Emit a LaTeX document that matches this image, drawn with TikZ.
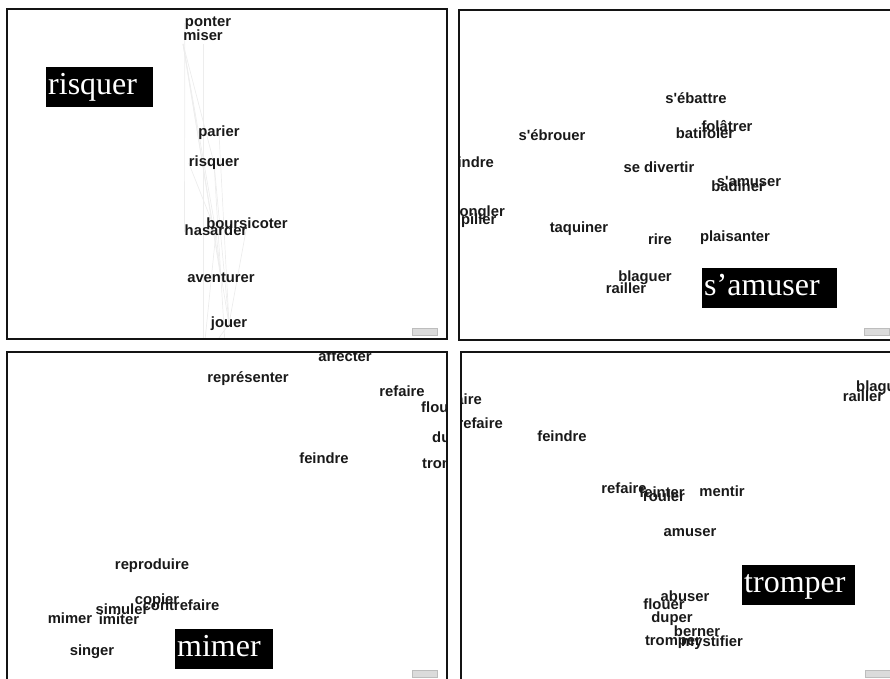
\documentclass[tikz,border=0pt]{standalone}
\usepackage{fontspec}
\newfontfamily\motfont{Liberation Sans}
\newfontfamily\etiqfont{Liberation Serif}
\usetikzlibrary{backgrounds}
\begin{document}
\begin{tikzpicture}[x=1pt,y=-1pt,
  mot/.style={font=\motfont\bfseries\fontsize{14.8}{15}\selectfont, text=black!90, inner sep=0pt, text height=10.5pt, text depth=3pt},
  lien/.style={draw=black!7, line width=0.7pt},
  etiquette/.style={fill=black, text=white, font=\etiqfont\fontsize{32}{32}\selectfont, anchor=north west, inner xsep=2pt, inner ysep=3.5pt, text width=#1, align=left, text height=24pt, text depth=9pt},
  cadre/.style={draw=black!92, line width=2pt},
  bouton/.style={fill=black!14, draw=black!26, line width=0.4pt, minimum width=25pt, minimum height=7pt, inner sep=0pt}]
\useasboundingbox (0,0) rectangle (890,678);
% risquer
\begin{scope}
\clip (8,10) rectangle (446,338);
\node[mot] (a-ponter) at (208,23) {ponter};
\node[mot] (a-miser) at (203,37) {miser};
\node[mot] (a-parier) at (219,133) {parier};
\node[mot] (a-risquer) at (214,163) {risquer};
\node[mot] (a-boursicoter) at (247,225) {boursicoter};
\node[mot] (a-hasarder) at (216,232) {hasarder};
\node[mot] (a-aventurer) at (221,279) {aventurer};
\node[mot] (a-jouer) at (229,324) {jouer};
\coordinate (a-bas) at (203,360);
\coordinate (a-bas2) at (226,360);
\node[etiquette=103pt] (a-titre) at (46,67) {risquer};
\node[bouton] (a-bouton) at (425,332) {};
\begin{scope}[on background layer]
\clip (8,10) rectangle (446,338);
\draw[lien] (a-miser.south west) -- (a-risquer.center);
\draw[lien] (a-miser.south west) -- (a-hasarder.center);
\draw[lien] (a-miser.south west) -- (a-aventurer.center);
\draw[lien] (a-miser.south west) -- (a-jouer.center);
\draw[lien] (a-ponter.west) -- (a-hasarder.west);
\draw[lien] (a-miser.south) -- (a-bas);
\draw[lien] (a-parier.center) -- (a-jouer.center);
\draw[lien] (a-risquer.west) -- (a-hasarder.center);
\draw[lien] (a-risquer.center) -- (a-aventurer.center);
\draw[lien] (a-risquer.center) -- (a-jouer.center);
\draw[lien] (a-hasarder.center) -- (a-aventurer.center);
\draw[lien] (a-hasarder.center) -- (a-bas);
\draw[lien] (a-aventurer.center) -- (a-bas2);
\draw[lien] (a-jouer.center) -- (a-bas);
\draw[lien] (a-boursicoter.center) -- (a-jouer.center);
\end{scope}
\end{scope}
\draw[cadre] (7,9) rectangle (447,339);
% s'amuser
\begin{scope}
\clip (460,11) rectangle (890,339);
\node[mot] (b-sebattre) at (696,100) {s'ébattre};
\node[mot] (b-folatrer) at (727,128) {folâtrer};
\node[mot] (b-batifoler) at (705,135) {batifoler};
\node[mot] (b-sebrouer) at (552,137) {s'ébrouer};
\node[mot, anchor=east] (b-feindre) at (494,164) {feindre};
\node[mot] (b-sedivertir) at (659,169) {se divertir};
\node[mot] (b-samuser) at (749,183) {s'amuser};
\node[mot] (b-badiner) at (738,188) {badiner};
\node[mot, anchor=east] (b-jongler) at (505,213) {jongler};
\node[mot, anchor=west] (b-roupiller) at (437,221) {roupiller};
\node[mot] (b-taquiner) at (579,229) {taquiner};
\node[mot] (b-rire) at (660,241) {rire};
\node[mot] (b-plaisanter) at (735,238) {plaisanter};
\node[mot] (b-blaguer) at (645,278) {blaguer};
\node[mot] (b-railler) at (626,290) {railler};
\coordinate (b-o1) at (380,70);
\coordinate (b-o2) at (380,120);
\coordinate (b-s1) at (560,360);
\coordinate (b-s2) at (620,360);
\node[etiquette=131pt] (b-titre) at (702,268) {s’amuser};
\node[bouton] (b-bouton) at (877,332) {};
\begin{scope}[on background layer]
\clip (460,11) rectangle (890,339);
\draw[lien] (b-o1) -- (b-samuser.center);
\draw[lien] (b-o1) -- (b-batifoler.center);
\draw[lien] (b-o2) -- (b-sedivertir.center);
\draw[lien] (b-o2) -- (b-badiner.center);
\draw[lien] (b-sebrouer.center) -- (b-batifoler.center);
\draw[lien] (b-feindre.center) -- (b-sedivertir.center);
\draw[lien] (b-feindre.center) -- (b-samuser.center);
\draw[lien] (b-jongler.center) -- (b-taquiner.center);
\draw[lien] (b-jongler.center) -- (b-rire.center);
\draw[lien] (b-taquiner.center) -- (b-samuser.center);
\draw[lien] (b-taquiner.center) -- (b-rire.center);
\draw[lien] (b-sedivertir.center) -- (b-rire.center);
\draw[lien] (b-sedivertir.center) -- (b-samuser.center);
\draw[lien] (b-sedivertir.center) -- (b-plaisanter.center);
\draw[lien] (b-rire.center) -- (b-plaisanter.center);
\draw[lien] (b-rire.center) -- (b-blaguer.center);
\draw[lien] (b-blaguer.center) -- (b-plaisanter.center);
\draw[lien] (b-blaguer.center) -- (b-samuser.center);
\draw[lien] (b-railler.center) -- (b-s1);
\draw[lien] (b-blaguer.center) -- (b-s2);
\draw[lien] (b-railler.center) -- (b-taquiner.center);
\draw[lien] (b-batifoler.center) -- (b-badiner.center);
\draw[lien] (b-folatrer.center) -- (b-samuser.center);
\draw[lien] (b-sebattre.center) -- (b-batifoler.center);
\draw[lien] (b-batifoler.center) -- (b-plaisanter.center);
\end{scope}
\end{scope}
\draw[cadre] (459,10) rectangle (895,340);
% mimer
\begin{scope}
\clip (8,353) rectangle (446,680);
\node[mot] (c-affecter) at (345,358) {affecter};
\node[mot] (c-representer) at (248,379) {représenter};
\node[mot] (c-refaire) at (402,393) {refaire};
\node[mot, anchor=west] (c-flouer) at (421,409) {flouer};
\node[mot, anchor=west] (c-duper) at (432,439) {duper};
\node[mot, anchor=west] (c-tromper) at (422,465) {tromper};
\node[mot] (c-feindre) at (324,460) {feindre};
\node[mot] (c-reproduire) at (152,566) {reproduire};
\node[mot] (c-copier) at (157,601) {copier};
\node[mot] (c-contrefaire) at (181,607) {contrefaire};
\node[mot] (c-simuler) at (122,611) {simuler};
\node[mot] (c-imiter) at (119,621) {imiter};
\node[mot] (c-mimer) at (70,620) {mimer};
\node[mot] (c-singer) at (92,652) {singer};
\coordinate (c-h1) at (260,330);
\coordinate (c-h2) at (330,330);
\coordinate (c-d1) at (470,380);
\node[etiquette=94pt] (c-titre) at (175,629) {mimer};
\node[bouton] (c-bouton) at (425,674) {};
\begin{scope}[on background layer]
\clip (8,353) rectangle (446,680);
\draw[lien] (c-mimer.center) -- (c-representer.center);
\draw[lien] (c-mimer.center) -- (c-h1);
\draw[lien] (c-singer.center) -- (c-representer.center);
\draw[lien] (c-singer.center) -- (c-h2);
\draw[lien] (c-imiter.center) -- (c-affecter.center);
\draw[lien] (c-simuler.center) -- (c-affecter.center);
\draw[lien] (c-reproduire.center) -- (c-affecter.center);
\draw[lien] (c-copier.center) -- (c-feindre.center);
\draw[lien] (c-contrefaire.center) -- (c-refaire.center);
\draw[lien] (c-imiter.center) -- (c-feindre.center);
\draw[lien] (c-simuler.center) -- (c-refaire.center);
\draw[lien] (c-reproduire.center) -- (c-representer.center);
\draw[lien] (c-feindre.center) -- (c-affecter.center);
\draw[lien] (c-feindre.center) -- (c-tromper.center);
\draw[lien] (c-feindre.center) -- (c-refaire.center);
\draw[lien] (c-refaire.center) -- (c-affecter.center);
\draw[lien] (c-refaire.center) -- (c-duper.center);
\draw[lien] (c-refaire.center) -- (c-tromper.center);
\draw[lien] (c-affecter.center) -- (c-flouer.center);
\draw[lien] (c-affecter.center) -- (c-d1);
\draw[lien] (c-representer.center) -- (c-h2);
\end{scope}
\end{scope}
\draw[cadre] (7,352) rectangle (447,684);
% tromper
\begin{scope}
\clip (462,353) rectangle (890,678);
\node[mot, anchor=east] (d-faire) at (482,401) {faire};
\node[mot, anchor=east] (d-refaire1) at (503,425) {refaire};
\node[mot] (d-feindre) at (562,438) {feindre};
\node[mot] (d-refaire) at (624,490) {refaire};
\node[mot] (d-feinter) at (662,494) {feinter};
\node[mot] (d-rouler) at (664,498) {rouler};
\node[mot] (d-mentir) at (722,493) {mentir};
\node[mot] (d-amuser) at (690,533) {amuser};
\node[mot] (d-abuser) at (685,598) {abuser};
\node[mot] (d-flouer) at (664,606) {flouer};
\node[mot] (d-duper) at (672,619) {duper};
\node[mot] (d-berner) at (697,633) {berner};
\node[mot] (d-tromper) at (673,642) {tromper};
\node[mot] (d-mystifier) at (712,643) {mystifier};
\node[mot, anchor=west] (d-blaguer) at (856,388) {blaguer};
\node[mot] (d-railler) at (863,398) {railler};
\coordinate (d-h1) at (612,330);
\coordinate (d-h2) at (640,330);
\coordinate (d-h3) at (668,330);
\coordinate (d-h4) at (530,330);
\coordinate (d-h5) at (440,360);
\node[etiquette=109pt] (d-titre) at (742,565) {tromper};
\node[bouton] (d-bouton) at (878,674) {};
\begin{scope}[on background layer]
\clip (462,353) rectangle (890,678);
\draw[lien] (d-h1) -- (d-tromper.center);
\draw[lien] (d-h1) -- (d-flouer.center);
\draw[lien] (d-h2) -- (d-duper.center);
\draw[lien] (d-h2) -- (d-feinter.center);
\draw[lien] (d-h3) -- (d-abuser.center);
\draw[lien] (d-h3) -- (d-rouler.center);
\draw[lien] (d-h4) -- (d-feindre.center);
\draw[lien] (d-h5) -- (d-feindre.center);
\draw[lien] (d-refaire1.center) -- (d-feindre.center);
\draw[lien] (d-faire.center) -- (d-refaire.center);
\draw[lien] (d-feindre.center) -- (d-tromper.center);
\draw[lien] (d-feindre.center) -- (d-refaire.center);
\draw[lien] (d-refaire.center) -- (d-flouer.center);
\draw[lien] (d-refaire.center) -- (d-duper.center);
\draw[lien] (d-feinter.center) -- (d-tromper.center);
\draw[lien] (d-rouler.center) -- (d-duper.center);
\draw[lien] (d-mentir.center) -- (d-abuser.center);
\draw[lien] (d-mentir.center) -- (d-berner.center);
\draw[lien] (d-mentir.center) -- (d-railler.center);
\draw[lien] (d-amuser.center) -- (d-abuser.center);
\draw[lien] (d-amuser.center) -- (d-mystifier.center);
\draw[lien] (d-amuser.center) -- (d-blaguer.center);
\end{scope}
\end{scope}
\draw[cadre] (461,352) rectangle (895,684);
\end{tikzpicture}
\end{document}
